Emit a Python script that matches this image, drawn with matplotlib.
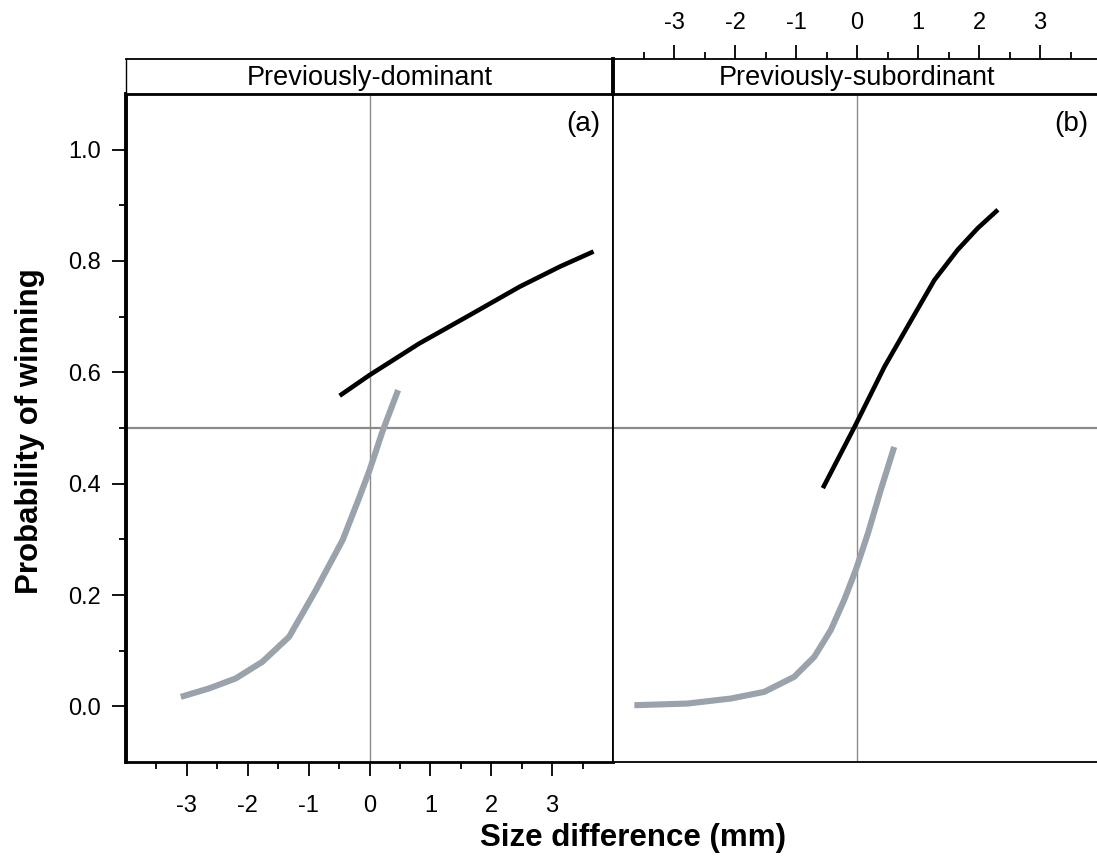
import numpy as np
import matplotlib.pyplot as plt
from matplotlib.ticker import FixedLocator

plt.rcParams['font.family'] = ['Liberation Sans', 'DejaVu Sans']

# panel (a): previously-dominant
dom_win_x = [-0.49, 0.0, 0.82, 1.65, 2.47, 3.13, 3.68]
dom_win_y = [0.558, 0.595, 0.652, 0.703, 0.754, 0.790, 0.817]
dom_lose_x = [-3.10, -2.64, -2.20, -1.76, -1.32, -0.88, -0.44, -0.165, 0.0, 0.22, 0.47]
dom_lose_y = [0.017, 0.032, 0.050, 0.080, 0.125, 0.209, 0.299, 0.376, 0.424, 0.496, 0.568]

# panel (b): previously-subordinate
sub_win_x = [-0.56, -0.04, 0.45, 0.89, 1.27, 1.65, 1.98, 2.31]
sub_win_y = [0.392, 0.502, 0.610, 0.694, 0.766, 0.820, 0.859, 0.892]
sub_lose_x = [-3.65, -2.78, -2.07, -1.52, -1.03, -0.70, -0.43, -0.21, -0.02, 0.18, 0.39, 0.61]
sub_lose_y = [0.002, 0.005, 0.014, 0.026, 0.053, 0.089, 0.137, 0.191, 0.245, 0.311, 0.389, 0.466]

strip_names = ['Previously-dominant', 'Previously-subordinant']
panel_tags = ['(a)', '(b)']
x_ticks = [-3, -2, -1, 0, 1, 2, 3]
x_labels = ['-3', '-2', '-1', '0', '1', '2', '3']
x_minor = [-3.5, -2.5, -1.5, -0.5, 0.5, 1.5, 2.5, 3.5]
y_ticks = [0.0, 0.2, 0.4, 0.6, 0.8, 1.0]
y_minor = [0.1, 0.3, 0.5, 0.7, 0.9]

W, H = 1097, 857
fig = plt.figure(figsize=(W / 100, H / 100), dpi=100)

def box(x0, y0, x1, y1):
    # pixel box -> figure fraction rect
    return [x0 / W, 1 - y1 / H, (x1 - x0) / W, (y1 - y0) / H]

ax1 = fig.add_axes(box(126, 94, 613, 762))
ax2 = fig.add_axes(box(613, 94, 1101, 762))
st1 = fig.add_axes(box(126, 59, 613, 94))
st2 = fig.add_axes(box(613, 59, 1101, 94))

grey = '#9aa2ab'
ref = '#8a8a8a'

for ax, wx, wy, lx, ly, tag in [(ax1, dom_win_x, dom_win_y, dom_lose_x, dom_lose_y, panel_tags[0]),
                                 (ax2, sub_win_x, sub_win_y, sub_lose_x, sub_lose_y, panel_tags[1])]:
    ax.axhline(0.5, color=ref, lw=1.6, zorder=1)
    ax.axvline(0, color=ref, lw=1.0, zorder=1)
    ax.plot(lx, ly, color=grey, lw=4.4, solid_capstyle='butt', solid_joinstyle='round', zorder=2)
    ax.plot(wx, wy, color='black', lw=3.3, solid_capstyle='butt', solid_joinstyle='round', zorder=3)
    ax.set_xlim(-4, 4)
    ax.set_ylim(-0.1, 1.1)
    ax.text(0.975, 0.975, tag, transform=ax.transAxes, ha='right', va='top', fontsize=20)
    for s in ax.spines.values():
        s.set_linewidth(1.3)

ax1.spines['left'].set_linewidth(2.8)
ax1.spines['bottom'].set_linewidth(2.0)
ax1.spines['top'].set_linewidth(2.0)
ax2.spines['top'].set_linewidth(2.0)
ax2.spines['right'].set_visible(False)

ax1.set_xticks(x_ticks)
ax1.set_xticklabels(x_labels)
ax1.xaxis.set_minor_locator(FixedLocator(x_minor))
ax1.set_yticks(y_ticks)
ax1.set_yticklabels([f'{v:.1f}' for v in y_ticks])
ax1.yaxis.set_minor_locator(FixedLocator(y_minor))
ax1.tick_params(axis='both', which='major', length=10, width=1.3, labelsize=17, direction='out')
ax1.tick_params(axis='both', which='minor', length=5, width=1.3, direction='out')
ax1.tick_params(axis='x', pad=14)
ax1.tick_params(axis='y', pad=8)

ax2.set_xticks([])
ax2.set_yticks([])

for st, name in [(st1, strip_names[0]), (st2, strip_names[1])]:
    st.set_xlim(-4, 4)
    st.set_ylim(0, 1)
    st.set_yticks([])
    st.text(0, 0.47, name, ha='center', va='center', fontsize=19.5)
    for s in st.spines.values():
        s.set_linewidth(1.3)
st1.set_xticks([])
st2.spines['right'].set_visible(False)
st1.spines['left'].set_linewidth(1.0)
st2.spines['left'].set_linewidth(2.8)

st2.xaxis.tick_top()
st2.set_xticks(x_ticks)
st2.set_xticklabels(x_labels)
st2.xaxis.set_minor_locator(FixedLocator(x_minor))
st2.tick_params(axis='x', which='major', length=10, width=1.3, labelsize=17, pad=8)
st2.tick_params(axis='x', which='minor', length=5, width=1.3)

fig.text(633 / W, 1 - 838 / H, 'Size difference (mm)', ha='center', va='center',
         fontsize=22.5, fontweight='bold')
fig.text(30 / W, 1 - 431 / H, 'Probability of winning', ha='center', va='center',
         rotation=90, fontsize=22.5, fontweight='bold')

fig.savefig('out.png', dpi=100)
